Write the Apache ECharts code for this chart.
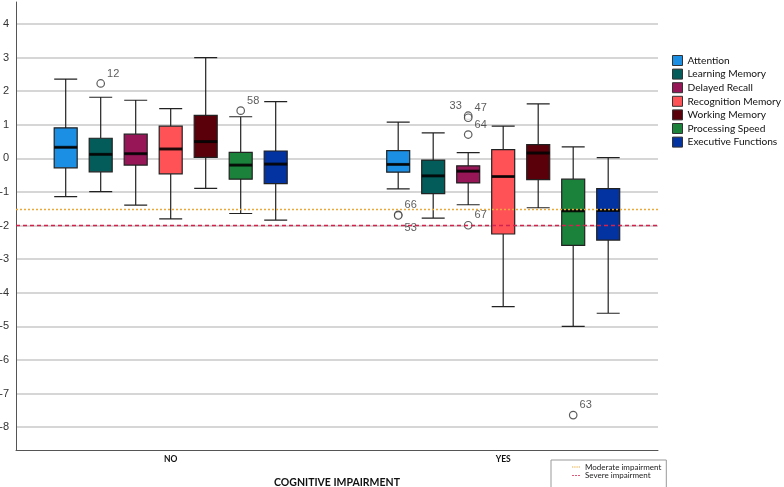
<!DOCTYPE html>
<html>
<head>
<meta charset="utf-8">
<script src="https://cdn.jsdelivr.net/npm/echarts@6/dist/echarts.min.js"></script>
<style>
  html, body { margin: 0; padding: 0; background: #fff; }
  #chart { width: 784px; height: 487px; }
</style>
</head>
<body>
<div id="chart"></div>
<script>
const groups = ['NO', 'YES'];
const domains = ['Attention', 'Learning Memory', 'Delayed Recall', 'Recognition Memory',
  'Working Memory', 'Processing Speed', 'Executive Functions'];
// [min, Q1, median, Q3, max] for each domain
const noStats = [
  [-1.14, -0.28, 0.33, 0.91, 2.36],
  [-0.99, -0.40, 0.12, 0.60, 1.82],
  [-1.39, -0.20, 0.14, 0.72, 1.73],
  [-1.80, -0.46, 0.28, 0.96, 1.48],
  [-0.89, 0.03, 0.50, 1.28, 3.00],
  [-1.64, -0.62, -0.20, 0.18, 1.24],
  [-1.84, -0.75, -0.17, 0.22, 1.69]
];
const yesStats = [
  [-0.91, -0.41, -0.18, 0.23, 1.08],
  [-1.78, -1.05, -0.52, -0.05, 0.76],
  [-1.38, -0.73, -0.38, -0.22, 0.17],
  [-4.41, -2.25, -0.54, 0.26, 0.96],
  [-1.47, -0.63, 0.16, 0.41, 1.62],
  [-5.00, -2.59, -1.56, -0.62, 0.34],
  [-4.61, -2.43, -1.55, -0.90, 0.02]
];
// outliers: group index, domain index, value, case number
const outlierGroup = [0, 0, 1, 1, 1, 1, 1, 1, 1];
const outlierDomain = [1, 5, 0, 0, 2, 2, 2, 2, 5];
const outlierValue = [2.23, 1.42, -1.68, -1.70, 1.27, 1.21, 0.71, -1.99, -7.64];
const outlierCase = ['12', '58', '66', '53', '33', '47', '64', '67', '63'];
const cutoffNames = ['Moderate impairment', 'Severe impairment'];
const cutoffValues = [-1.5, -2];
const yTicks = [-8, -7, -6, -5, -4, -3, -2, -1, 0, 1, 2, 3, 4];

const colors = ['#1b8fe3', '#045c5a', '#961657', '#ff5257', '#5a000a', '#1b823c', '#0333a0'];
const cutoffColors = ['#eaa93a', '#d0244f'];
const cutoffDash = [[2, 2], [4, 3]];
const cutoffIcons = [
  'path://M0 0h1.5v1h-1.5zM2.6 0h1.5v1h-1.5zM5.2 0h1.5v1h-1.5zM7.8 0h1.5v1h-1.5z',
  'path://M0 0h2.4v1h-2.4zM3.6 0h2.4v1h-2.4zM7.2 0h2.4v1h-2.4z'
];

// thin slots on the box axis, so each box sits at its own slot
const slotW = 2.5, perDomain = 14, groupStart = [0, 133], nSlots = 218;
const slotOf = (g, d) => groupStart[g] + perDomain * d;
const slotLabels = new Array(nSlots).fill('');
groups.forEach((g, i) => { slotLabels[groupStart[i] + perDomain * 3] = g; });
const stats = [noStats, yesStats];

const yMin = -8.68, yMax = 4.655;
const arial = 'Liberation Sans, Arial, sans-serif';
const cal = 'Lato, sans-serif';

const labelTweak = {
  '53': { offset: [0, 12] },
  '33': { position: 'left' }
};

const xAxis = [{
  gridIndex: 0, type: 'category', data: groups,
  axisLine: { onZero: false, lineStyle: { color: '#555', width: 1 } },
  axisTick: { show: false }, axisLabel: { show: false },
  name: 'COGNITIVE IMPAIRMENT', nameLocation: 'middle', nameGap: 27,
  nameTextStyle: { fontFamily: cal, fontWeight: 'bold', fontSize: 10.5, color: '#111' }
}];
for (let i = 0; i <= domains.length; i++) {
  xAxis.push({
    gridIndex: 1, type: 'category', data: slotLabels,
    axisLine: { show: false, onZero: false }, axisTick: { show: false }, splitLine: { show: false },
    axisLabel: i === 0
      ? { interval: 0, margin: 5, fontFamily: cal, fontWeight: 'bold', fontSize: 8.5, color: '#111' }
      : { show: false }
  });
}

const series = domains.map((name, d) => {
  const data = new Array(nSlots).fill('-');
  groups.forEach((g, gi) => { data[slotOf(gi, d)] = stats[gi][d]; });
  return {
    name, type: 'boxplot', xAxisIndex: d + 2, yAxisIndex: 1,
    boxWidth: [23, 23], silent: true, z: 2,
    itemStyle: { color: colors[d], borderColor: '#222', borderWidth: 1.2 },
    data
  };
});

const medians = [];
groups.forEach((g, gi) => domains.forEach((n, d) => medians.push([slotOf(gi, d), stats[gi][d][2]])));
series.push({
  type: 'scatter', xAxisIndex: 1, yAxisIndex: 1, silent: true, z: 3,
  symbol: 'rect', symbolSize: [23, 3], itemStyle: { color: '#000' },
  data: medians
});

series.push({
  type: 'scatter', xAxisIndex: 1, yAxisIndex: 1, silent: true, z: 4,
  symbol: 'circle', symbolSize: 7.5,
  itemStyle: { color: '#fff', borderColor: '#333', borderWidth: 1.2 },
  label: { show: true, position: 'right', distance: 2, offset: [0, -10],
    fontFamily: arial, fontSize: 11, color: '#333', formatter: p => p.data.name },
  data: outlierValue.map((v, i) => ({
    name: outlierCase[i],
    value: [slotOf(outlierGroup[i], outlierDomain[i]), v],
    label: labelTweak[outlierCase[i]]
  }))
});

cutoffNames.forEach((name, i) => {
  series.push({
    name, type: 'line', xAxisIndex: 0, yAxisIndex: 0, data: [], symbol: 'none',
    color: cutoffColors[i],
    itemStyle: { color: cutoffColors[i] },
    lineStyle: { color: cutoffColors[i], type: cutoffDash[i], width: 1 },
    markLine: {
      silent: true, symbol: 'none', label: { show: false }, z: 5,
      itemStyle: { color: cutoffColors[i] },
      lineStyle: { color: cutoffColors[i], type: cutoffDash[i], width: 1.3, opacity: 1 },
      data: [{ yAxis: cutoffValues[i] }]
    }
  });
});

const chart = echarts.init(document.getElementById('chart'));
chart.setOption({
  animation: false,
  backgroundColor: '#fff',
  grid: [
    { left: 16, right: 126, top: 2, bottom: 37, outerBoundsMode: 'none' },
    { left: 65.7 - slotW / 2, width: slotW * nSlots, top: 2, bottom: 37, outerBoundsMode: 'none' }
  ],
  xAxis,
  yAxis: [{
    gridIndex: 0, type: 'value', min: yMin, max: yMax,
    axisLine: { show: true, onZero: false, lineStyle: { color: '#555', width: 1 } },
    axisTick: { show: false, customValues: yTicks },
    axisLabel: { customValues: yTicks, margin: 7, fontFamily: arial, fontSize: 11, color: '#333' },
    splitLine: { show: true, lineStyle: { color: '#c8c8c8', width: 1.5 } }
  }, {
    gridIndex: 1, type: 'value', min: yMin, max: yMax, show: false, splitLine: { show: false }
  }],
  legend: [{
    data: domains.map((n, i) => ({ name: n, itemStyle: { color: colors[i], borderColor: '#333', borderWidth: 1 } })),
    orient: 'vertical', left: 672, top: 55, padding: 0, icon: 'rect',
    itemWidth: 10, itemHeight: 10, itemGap: 2.6, selectedMode: false,
    textStyle: { fontFamily: cal, fontSize: 10.2, lineHeight: 10, color: '#111' }
  }, {
    data: cutoffNames.map((n, i) => ({
      name: n, icon: cutoffIcons[i],
      itemStyle: { color: cutoffColors[i], borderWidth: 0 },
      lineStyle: { color: cutoffColors[i] }
    })),
    orient: 'vertical', left: 551, top: 460, height: 40, padding: [3, 5, 10, 21],
    itemWidth: 8, itemHeight: 1.4, itemGap: 0.3, selectedMode: false,
    borderColor: '#999', borderWidth: 1, backgroundColor: '#fff',
    textStyle: { fontFamily: cal, fontSize: 8, lineHeight: 8, color: '#222' }
  }],
  series
});
</script>
</body>
</html>
